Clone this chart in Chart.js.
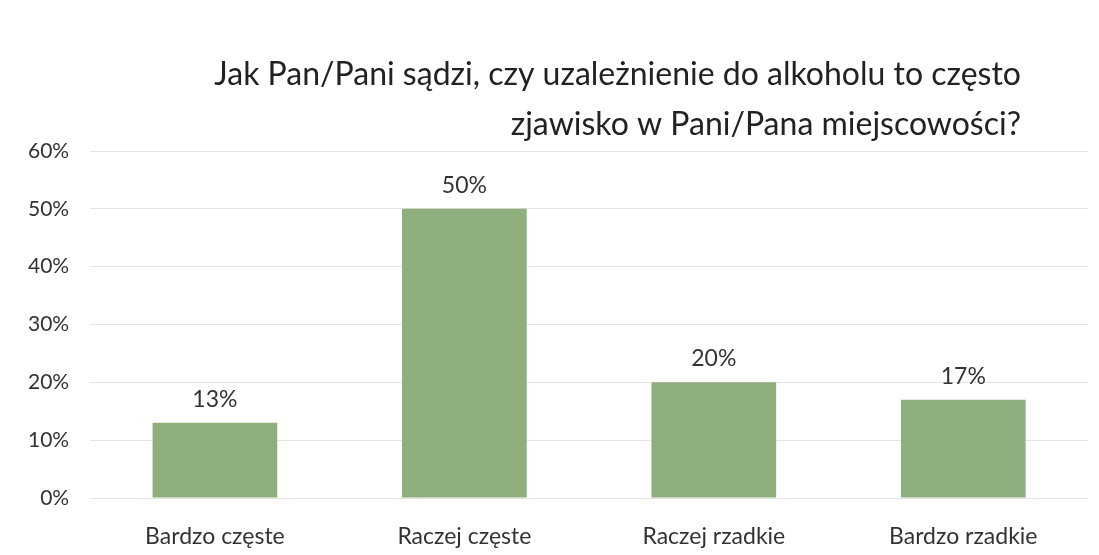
<!DOCTYPE html>
<html>
<head>
    <meta charset="utf-8">
    <title>Uzależnienie od alkoholu</title>
    <style>
        body { margin: 0; background: #fff; }
        #chart-container { width: 1099px; height: 555px; }
    </style>
</head>
<body>
    <script src="https://cdn.jsdelivr.net/npm/chart.js@4/dist/chart.umd.min.js"></script>
    <div id="chart-container">
        <canvas id="myChart"></canvas>
    </div>
    <script>
        const titleLines = [
            'Jak Pan/Pani sądzi, czy uzależnienie do alkoholu to często',
            'zjawisko w Pani/Pana miejscowości?'
        ];
        const categories = ['Bardzo częste', 'Raczej częste', 'Raczej rzadkie', 'Bardzo rzadkie'];
        const values = [13, 50, 20, 17];
        const yTicks = [0, 10, 20, 30, 40, 50, 60];

        const fontName = 'Lato, "Open Sans", sans-serif';
        const textColor = '#333333';

        // tytuł wyrównany do prawej + etykiety nad słupkami
        const extras = {
            id: 'extras',
            afterDraw(chart) {
                const ctx = chart.ctx;
                const area = chart.chartArea;
                ctx.save();
                ctx.fillStyle = '#222222';
                ctx.font = '32px ' + fontName;
                ctx.textAlign = 'right';
                ctx.textBaseline = 'alphabetic';
                titleLines.forEach((line, i) => {
                    ctx.fillText(line, area.right - 67, 85 + i * 50);
                });

                ctx.fillStyle = textColor;
                ctx.font = '23px ' + fontName;
                ctx.textAlign = 'center';
                const meta = chart.getDatasetMeta(0);
                meta.data.forEach((bar, i) => {
                    ctx.fillText(values[i] + '%', bar.x, bar.y - 16);
                });
                ctx.restore();
            }
        };

        new Chart('myChart', {
            type: 'bar',
            data: {
                labels: categories,
                datasets: [{
                    data: values,
                    backgroundColor: '#8fb07c',
                    categoryPercentage: 1.0,
                    barPercentage: 0.5
                }]
            },
            options: {
                responsive: true,
                maintainAspectRatio: false,
                animation: false,
                layout: { padding: { top: 151, right: 11, bottom: 0, left: 7 } },
                plugins: {
                    legend: { display: false },
                    title: { display: false },
                    tooltip: { enabled: false }
                },
                scales: {
                    x: {
                        afterFit(axis) { axis.height = 57; },
                        grid: { display: false },
                        border: { display: false },
                        ticks: { color: textColor, font: { family: fontName, size: 23 }, padding: 17 }
                    },
                    y: {
                        min: 0,
                        max: 60,
                        afterBuildTicks(axis) {
                            axis.ticks = yTicks.map(v => ({ value: v }));
                        },
                        grid: { color: '#e3e3e3', drawTicks: false },
                        border: { display: false },
                        ticks: {
                            color: textColor,
                            font: { family: fontName, size: 21 },
                            padding: 21,
                            callback: v => v + '%'
                        }
                    }
                }
            },
            plugins: [extras]
        });
    </script>
</body>
</html>
